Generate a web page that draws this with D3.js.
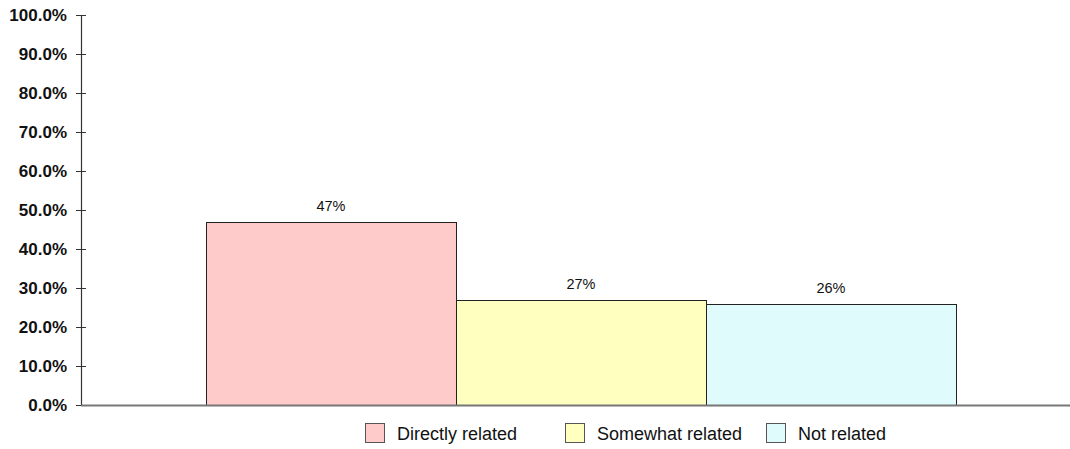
<!DOCTYPE html>
<html><head><meta charset="utf-8">
<script src="https://cdn.jsdelivr.net/npm/d3@7"></script>
<style>body{margin:0;background:#fff}svg{display:block}</style>
</head><body>
<svg id="c" width="1070" height="449"></svg>
<script>
const categories = ["Directly related", "Somewhat related", "Not related"];
const values = [47, 27, 26];
const labels = ["47%", "27%", "26%"];
const colors = ["#FFCACA", "#FFFFC0", "#E0FBFB"];
const yTicks = [0, 10, 20, 30, 40, 50, 60, 70, 80, 90, 100];

const svg = d3.select("#c");
const x0 = 81, x1 = 1081, yTop = 15, yBot = 405;
const y = d3.scaleLinear().domain([0, 100]).range([yBot, yTop]);
const xOuter = d3.scaleBand().domain(["g"]).range([x0, x1]).paddingInner(0).paddingOuter(1 / 6);
const xInner = d3.scaleBand().domain(categories).range([0, xOuter.bandwidth()]);

// y axis
const yAxis = d3.axisLeft(y).tickValues(yTicks).tickFormat(d => d.toFixed(1) + "%").tickSize(5).tickPadding(9);
const ga = svg.append("g").attr("transform", `translate(${x0},0)`).call(yAxis);
ga.select(".domain").attr("stroke", "#333").attr("stroke-width", 1.2);
ga.selectAll(".tick line").attr("x1", -5).attr("x2", 5).attr("stroke", "#333");
ga.selectAll(".tick text").attr("font-family", "Liberation Sans, Arial, sans-serif")
  .attr("font-size", 17).attr("font-weight", "bold").attr("fill", "#111");

// bars
const g = svg.append("g").attr("transform", `translate(${xOuter("g")},0)`);
g.selectAll("rect").data(values).join("rect")
  .attr("x", (d, i) => xInner(categories[i]) + 0.5)
  .attr("y", d => Math.round(y(d)) + 0.5)
  .attr("width", xInner.bandwidth())
  .attr("height", d => yBot - Math.round(y(d)))
  .attr("fill", (d, i) => colors[i])
  .attr("stroke", "#222").attr("stroke-width", 1);
g.selectAll("text.lab").data(values).join("text").attr("class", "lab")
  .attr("x", (d, i) => xInner(categories[i]) + xInner.bandwidth() / 2)
  .attr("y", d => y(d) - 11)
  .attr("text-anchor", "middle")
  .attr("font-family", "Liberation Sans, Arial, sans-serif").attr("font-size", 14.5).attr("fill", "#111")
  .text((d, i) => labels[i]);

// baseline
svg.append("line").attr("x1", x0).attr("x2", 1070).attr("y1", yBot + 0.5).attr("y2", yBot + 0.5)
  .attr("stroke", "#777").attr("stroke-width", 2);

// legend
const legX = [365, 565, 766];
const lg = svg.append("g");
categories.forEach((c, i) => {
  lg.append("rect").attr("x", legX[i] + 0.5).attr("y", 423.5).attr("width", 19).attr("height", 19)
    .attr("fill", colors[i]).attr("stroke", "#555");
  lg.append("text").attr("x", legX[i] + 32).attr("y", 439.5)
    .attr("font-family", "Liberation Sans, Arial, sans-serif").attr("font-size", 18).attr("fill", "#111")
    .text(c);
});
</script>
</body></html>
